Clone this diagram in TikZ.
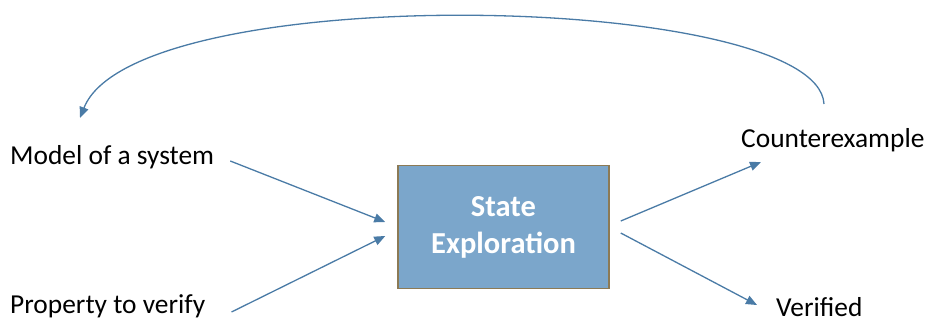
\documentclass[tikz,border=0pt]{standalone}
\usepackage{fontspec}
\setmainfont{Carlito}
\usetikzlibrary{arrows.meta}
\definecolor{boxfill}{HTML}{7BA6CB}
\definecolor{boxdraw}{HTML}{8C7A55}
\definecolor{linec}{HTML}{4A7BA6}
\tikzset{
  lbl/.style={font=\fontsize{27.4}{30}\selectfont, text=black, inner sep=0pt, anchor=west},
  arr/.style={draw=linec, line width=1.3pt, -{Triangle[length=11pt,width=9pt]}},
  sebox/.style={draw=boxdraw, line width=1.5pt, fill=boxfill, minimum width=211pt, minimum height=123pt,
     text=white, font=\fontsize{30.5}{37}\selectfont\bfseries, align=center, inner sep=0pt}
}
\begin{document}
\begin{tikzpicture}[x=1pt,y=-1pt]
\useasboundingbox (0,0) rectangle (927,322);
\node[sebox] (box) at (503.5,227) {State\\Exploration};
\node[lbl] (model) at (10,157) {Model of a system};
\node[lbl] (prop) at (10,306) {Property to verify};
\node[lbl] (cex) at (741,140) {Counterexample};
\node[lbl] (ver) at (776,307) {Verified};
\draw[arr] ([xshift=16pt,yshift=-4pt]model.east) -- ([xshift=-12pt,yshift=5pt]box.west);
\draw[arr] ([xshift=26pt,yshift=-6pt]prop.east) -- ([xshift=-12pt,yshift=-9pt]box.west);
\draw[arr] ([xshift=11pt,yshift=6pt]box.east) -- ([xshift=20pt,yshift=-22pt]cex.west);
\draw[arr] ([xshift=11pt,yshift=-6pt]box.east) -- ([xshift=-19pt,yshift=2pt]ver.west);
\draw[arr] ([xshift=83pt,yshift=36pt]cex.west) .. controls +(-6,-112) and (135,-22) .. ([xshift=70pt,yshift=39pt]model.west);
\end{tikzpicture}
\end{document}
